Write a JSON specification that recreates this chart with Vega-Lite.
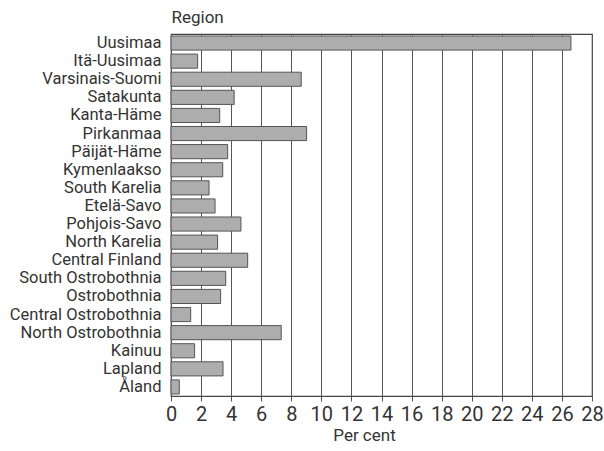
{
  "$schema": "https://vega.github.io/schema/vega-lite/v6.json",
  "width": 421,
  "height": 362,
  "autosize": {"type": "none"},
  "padding": {"left": 171, "top": 34, "right": 12, "bottom": 55},
  "background": "white",
  "config": {
    "font": "Roboto",
    "view": {"stroke": "#444", "strokeWidth": 1.2}
  },
  "data": {
    "values": [
      {"region": "Uusimaa", "pct": 26.6},
      {"region": "Itä-Uusimaa", "pct": 1.77},
      {"region": "Varsinais-Suomi", "pct": 8.66},
      {"region": "Satakunta", "pct": 4.2},
      {"region": "Kanta-Häme", "pct": 3.24},
      {"region": "Pirkanmaa", "pct": 9.02},
      {"region": "Päijät-Häme", "pct": 3.77},
      {"region": "Kymenlaakso", "pct": 3.44},
      {"region": "South Karelia", "pct": 2.53},
      {"region": "Etelä-Savo", "pct": 2.93},
      {"region": "Pohjois-Savo", "pct": 4.65},
      {"region": "North Karelia", "pct": 3.1},
      {"region": "Central Finland", "pct": 5.1},
      {"region": "South Ostrobothnia", "pct": 3.64},
      {"region": "Ostrobothnia", "pct": 3.3},
      {"region": "Central Ostrobothnia", "pct": 1.31},
      {"region": "North Ostrobothnia", "pct": 7.33},
      {"region": "Kainuu", "pct": 1.57},
      {"region": "Lapland", "pct": 3.46},
      {"region": "Åland", "pct": 0.55}
    ]
  },
  "mark": {"type": "bar", "fill": "#adadad", "stroke": "#555", "strokeWidth": 1},
  "encoding": {
    "y": {
      "field": "region",
      "type": "nominal",
      "sort": null,
      "scale": {"paddingInner": 0.22, "paddingOuter": 0.11},
      "axis": {
        "title": "Region",
        "titleAngle": 0,
        "titleX": 0,
        "titleY": -8,
        "titleAlign": "left",
        "titleBaseline": "bottom",
        "titleFontSize": 17,
        "titleFontWeight": "normal",
        "titleColor": "#333",
        "labelFontSize": 16.5,
        "labelColor": "#333",
        "labelPadding": 10,
        "labelOverlap": false,
        "ticks": false,
        "domain": false,
        "grid": false
      }
    },
    "x": {
      "field": "pct",
      "type": "quantitative",
      "scale": {"domain": [0, 28], "nice": false},
      "axis": {
        "title": "Per cent",
        "values": [0, 2, 4, 6, 8, 10, 12, 14, 16, 18, 20, 22, 24, 26, 28],
        "grid": true,
        "gridColor": "#555",
        "gridOpacity": 1,
        "gridWidth": 1,
        "domainColor": "#444",
        "tickColor": "#555",
        "tickSize": 5,
        "labelFontSize": 20,
        "labelColor": "#333",
        "labelPadding": 3,
        "labelOverlap": false,
        "labelFlush": false,
        "labelBound": false,
        "titleFontSize": 17,
        "titleFontWeight": "normal",
        "titleColor": "#333",
        "titleX": 193,
        "titlePadding": 3
      }
    }
  }
}
